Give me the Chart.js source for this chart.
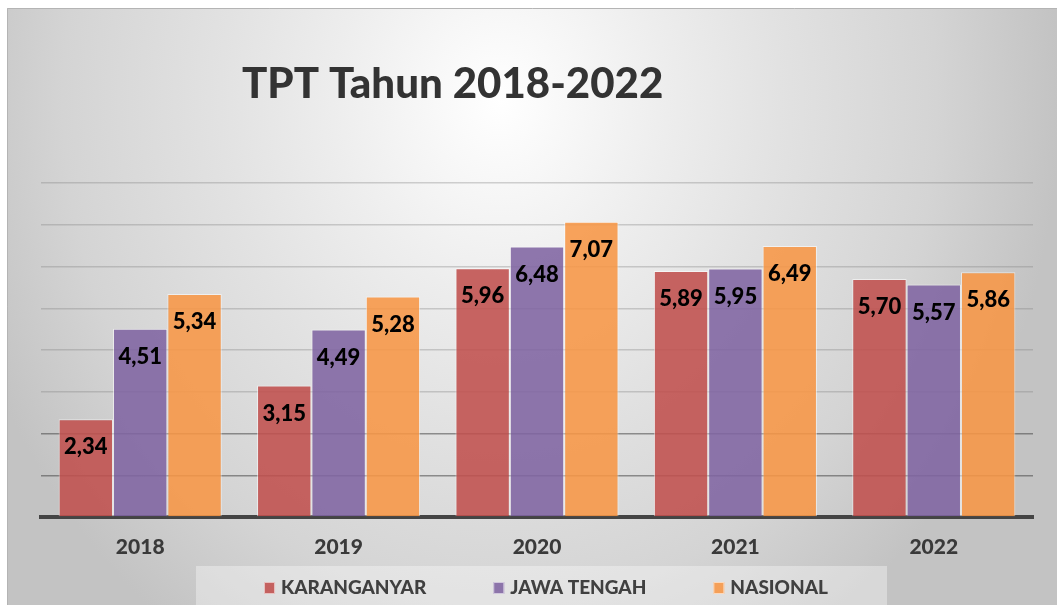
<!DOCTYPE html>
<html>
<head>
<meta charset="utf-8">
<title>TPT Tahun 2018-2022</title>
<script src="https://cdn.jsdelivr.net/npm/chart.js@4"></script>
<style>
  html, body { margin: 0; padding: 0; background: #fff; }
  #wrap { width: 1057px; height: 605px; }
</style>
</head>
<body>
<div id="wrap"><canvas id="myChart" width="1057" height="605"></canvas></div>
<script>
'use strict';

var tahun = ['2018', '2019', '2020', '2021', '2022'];
var karanganyar = [2.34, 3.15, 5.96, 5.89, 5.70];
var jawaTengah = [4.51, 4.49, 6.48, 5.95, 5.57];
var nasional = [5.34, 5.28, 7.07, 6.49, 5.86];
var namaSeri = ['KARANGANYAR', 'JAWA TENGAH', 'NASIONAL'];
var warnaSeri = ['rgba(192,80,77,0.88)', 'rgba(128,100,162,0.88)', 'rgba(247,150,70,0.88)'];
var judul = 'TPT Tahun 2018-2022';

var fontName = 'Lato, "Open Sans", sans-serif';
var tebal = '900';

function formatAngka(v) {
  return v.toFixed(2).replace('.', ',');
}

// background panel, title and the legend strip
var panelPlugin = {
  id: 'panel',
  beforeDraw: function(chart) {
    var ctx = chart.ctx;
    var w = chart.width, h = chart.height;
    ctx.save();
    ctx.fillStyle = '#ffffff';
    ctx.fillRect(0, 0, w, h);

    ctx.translate(500, 100);
    ctx.scale(560, 650);
    var g = ctx.createRadialGradient(0, 0, 0, 0, 0, 1);
    g.addColorStop(0, '#ffffff');
    g.addColorStop(0.3, '#ededed');
    g.addColorStop(0.5, '#e2e2e2');
    g.addColorStop(0.78, '#d4d4d4');
    g.addColorStop(1, '#c3c3c3');
    ctx.fillStyle = g;
    ctx.fillRect((7 - 500) / 560, (8 - 100) / 650, (w - 7) / 560, (h - 8) / 650);
    ctx.restore();

    ctx.save();
    ctx.strokeStyle = '#b4b4b4';
    ctx.lineWidth = 1;
    ctx.beginPath();
    ctx.moveTo(7.5, h);
    ctx.lineTo(7.5, 8.5);
    ctx.lineTo(w, 8.5);
    ctx.stroke();

    // legend strip
    ctx.fillStyle = 'rgba(255,255,255,0.35)';
    ctx.fillRect(196, 566, 691, h - 566);

    ctx.fillStyle = '#333333';
    ctx.font = tebal + ' 42px ' + fontName;
    ctx.textBaseline = 'alphabetic';
    ctx.textAlign = 'left';
    ctx.fillText(judul, 242, 98);
    ctx.restore();
  },
  afterDraw: function(chart) {
    var ctx = chart.ctx;
    var sets = chart.data.datasets;
    ctx.save();
    ctx.font = tebal + ' 19px ' + fontName;
    var gap = 67, kotak = 11, jarak = 17;
    var total = 0;
    sets.forEach(function(ds, i) {
      total += jarak + ctx.measureText(ds.label).width;
      if (i < sets.length - 1) total += gap;
    });
    var x = 546 - total / 2;
    var yMid = 588;
    ctx.textBaseline = 'middle';
    ctx.textAlign = 'left';
    sets.forEach(function(ds) {
      ctx.fillStyle = ds.backgroundColor;
      ctx.fillRect(x, yMid - 6, kotak, 12);
      ctx.strokeStyle = 'rgba(255,255,255,0.6)';
      ctx.lineWidth = 1;
      ctx.strokeRect(x + 0.5, yMid - 5.5, kotak - 1, 11);
      ctx.fillStyle = '#404040';
      ctx.fillText(ds.label, x + jarak, yMid);
      x += jarak + ctx.measureText(ds.label).width + gap;
    });
    ctx.restore();
  }
};

// value labels inside the top of each bar
var labelPlugin = {
  id: 'nilaiBatang',
  afterDatasetsDraw: function(chart) {
    var ctx = chart.ctx;
    ctx.save();
    ctx.font = tebal + ' 22px ' + fontName;
    ctx.fillStyle = '#000000';
    ctx.textAlign = 'center';
    ctx.textBaseline = 'middle';
    chart.data.datasets.forEach(function(ds, i) {
      var meta = chart.getDatasetMeta(i);
      meta.data.forEach(function(bar, j) {
        ctx.fillText(formatAngka(ds.data[j]), bar.x, bar.y + 28);
      });
    });
    ctx.restore();
  }
};

function buatChart() {
  var ctx = document.getElementById('myChart');

  var data = {
    labels: tahun,
    datasets: [karanganyar, jawaTengah, nasional].map(function(values, i) {
      return {
        label: namaSeri[i],
        data: values,
        backgroundColor: warnaSeri[i],
        borderColor: 'rgba(255,255,255,0.55)',
        borderWidth: 1,
        categoryPercentage: 0.822,
        barPercentage: 1
      };
    })
  };

  new Chart(ctx, {
    type: 'bar',
    data: data,
    plugins: [panelPlugin, labelPlugin],
    options: {
      responsive: false,
      animation: false,
      layout: { padding: { top: 183, left: 41, right: 24, bottom: 0 } },
      plugins: {
        legend: { display: false },
        title: { display: false },
        tooltip: { enabled: false }
      },
      scales: {
        x: {
          grid: { display: false, drawTicks: false },
          border: { display: true, color: '#444444', width: 4 },
          ticks: {
            padding: 18,
            color: '#3a3a3a',
            font: { family: fontName, size: 21, weight: tebal }
          },
          afterFit: function(scale) { scale.height = 88; }
        },
        y: {
          min: 0,
          max: 8,
          ticks: { display: false, stepSize: 1 },
          border: { display: false },
          grid: {
            drawTicks: false,
            lineWidth: 1.5,
            color: function(c) {
              var v = c.tick ? c.tick.value : 0;
              if (v === 0) return 'rgba(0,0,0,0)';
              if (v <= 2) return 'rgba(70,70,70,0.55)';
              return 'rgba(130,130,130,0.35)';
            }
          }
        }
      }
    }
  });
}

if (document.fonts && document.fonts.load) {
  Promise.all([
    document.fonts.load('900 42px Lato'),
    document.fonts.load('900 22px Lato')
  ]).then(buatChart, buatChart);
} else {
  buatChart();
}
</script>
</body>
</html>
